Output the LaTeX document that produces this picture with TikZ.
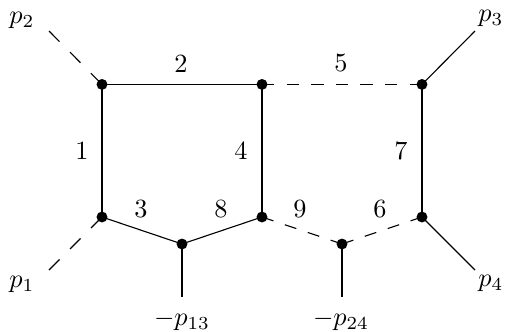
\documentclass[tikz,border=0pt]{standalone}
\begin{document}
\begin{tikzpicture}[x=0.43pt,y=-0.43pt,
  vtx/.style={circle,fill=black,inner sep=0pt,minimum size=4.7pt},
  extpt/.style={inner sep=0pt,minimum size=0pt},
  lbl/.style={inner sep=0pt,scale=1.13},
  edgeline/.style={line width=0.48pt},
  dashh/.style={line width=0.48pt,dash pattern=on 5.29pt off 5.29pt},
  dashs/.style={line width=0.48pt,dash pattern=on 5.19pt off 5.19pt},
  dashd/.style={line width=0.48pt,dash pattern=on 6.39pt off 6.39pt}]
\useasboundingbox (0,0) rectangle (510,331);
\node[vtx] (A) at (102,84.4) {};
\node[vtx] (B) at (262,84.4) {};
\node[vtx] (C) at (422,84.4) {};
\node[vtx] (D) at (102,217) {};
\node[vtx] (E) at (262,217) {};
\node[vtx] (F) at (422,217) {};
\node[vtx] (G) at (182,244) {};
\node[vtx] (H) at (342,244) {};
\node[extpt] (e2) at (49,31) {};
\node[extpt] (e1) at (49,270) {};
\node[extpt] (e3) at (475,31) {};
\node[extpt] (e4) at (475,270) {};
\node[extpt] (e13) at (182,297) {};
\node[extpt] (e24) at (342,297) {};
\draw[edgeline] (A.center) -- (B.center);
\draw[edgeline] (A.center) -- (D.center);
\draw[edgeline] (B.center) -- (E.center);
\draw[edgeline] (C.center) -- (F.center);
\draw[edgeline] (D.center) -- (G.center);
\draw[edgeline] (G.center) -- (E.center);
\draw[edgeline] (G.center) -- (e13.center);
\draw[edgeline] (H.center) -- (e24.center);
\draw[edgeline] (C.center) -- (e3.center);
\draw[edgeline] (F.center) -- (e4.center);
\draw[dashh] (B.center) -- (C.center);
\draw[dashs] (E.center) -- (H.center);
\draw[dashs] (F.center) -- (H.center);
\draw[dashd] (e2.center) -- (A.center);
\draw[dashd] (e1.center) -- (D.center);
\node[lbl] (l1) at (82,151) {$1$};
\node[lbl] (l2) at (181,64) {$2$};
\node[lbl] (l3) at (141,209) {$3$};
\node[lbl] (l4) at (241,151) {$4$};
\node[lbl] (l5) at (341,63) {$5$};
\node[lbl] (l6) at (380,209) {$6$};
\node[lbl] (l7) at (401,151) {$7$};
\node[lbl] (l8) at (221,209) {$8$};
\node[lbl] (l9) at (300,209) {$9$};
\node[lbl] (p2) at (22,20) {$p_2$};
\node[lbl] (p1) at (22,284) {$p_1$};
\node[lbl] (p3) at (491,18) {$p_3$};
\node[lbl] (p4) at (491,283) {$p_4$};
\node[lbl] (p13) at (182,320.5) {$-p_{13}$};
\node[lbl] (p24) at (341,320.5) {$-p_{24}$};
\end{tikzpicture}
\end{document}
